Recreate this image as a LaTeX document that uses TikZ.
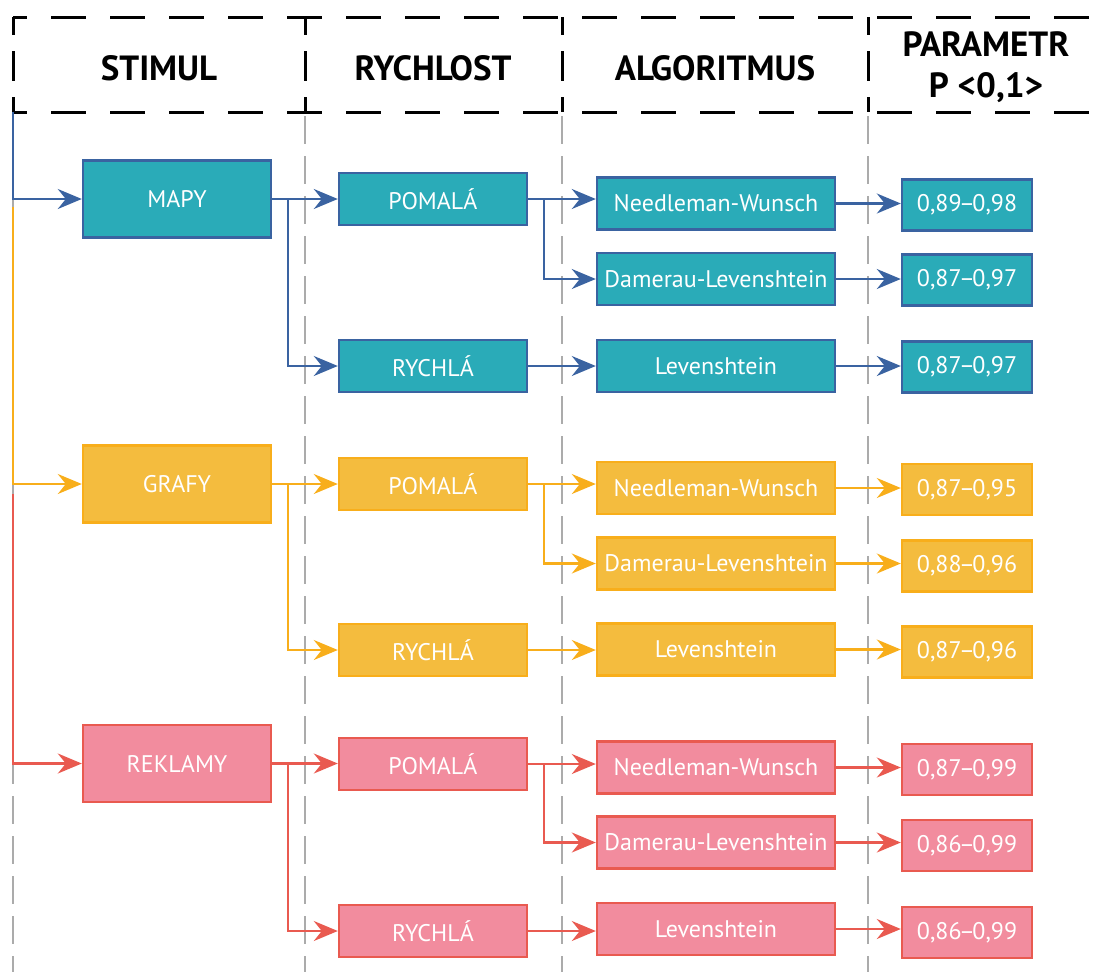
\documentclass[tikz,border=0pt]{standalone}
\usepackage{fontspec}
\setmainfont{PT Sans}
\usetikzlibrary{arrows.meta,calc}

\definecolor{tealfill}{HTML}{2AABB8}
\definecolor{blueline}{HTML}{3A63A1}
\definecolor{yelfill}{HTML}{F4BC3E}
\definecolor{yelline}{HTML}{F8AE1B}
\definecolor{pinkfill}{HTML}{F28C9E}
\definecolor{redline}{HTML}{E95A50}
\definecolor{guide}{HTML}{ABABAB}

% tight range dash
\newcommand{\rng}[2]{#1\kern-2.5pt–\kern-2.5pt#2}

\tikzset{
  box/.style={draw, line width=2.4pt, inner sep=0pt, text=white,
    font=\fontsize{24}{28}\selectfont, anchor=center},
  stim/.style={box, minimum width=188pt, minimum height=77pt},
  speed/.style={box, minimum width=188pt, minimum height=52pt},
  algo/.style={box, minimum width=238pt, minimum height=52pt},
  param/.style={box, minimum width=130pt, minimum height=51pt},
  bluebox/.style={fill=tealfill, draw=blueline},
  yelbox/.style={fill=yelfill, draw=yelline},
  pinkbox/.style={fill=pinkfill, draw=redline},
  link/.style={line width=2.2pt, -{Stealth[length=24pt, width=20pt, inset=8pt]}},
  headline/.style={black, line width=3pt},
  headtext/.style={font=\bfseries\fontsize{35}{41}\selectfont, align=center},
  guideline/.style={guide, line width=1.6pt, dash pattern=on 28pt off 12pt}
}

\begin{document}
\begin{tikzpicture}[x=1pt, y=-1pt]
\useasboundingbox (0,0) rectangle (1102,972);
\clip (0,0) rectangle (1102,972);

% column guides below the header
\foreach \gx in {13,305,562,868}
  \draw[guideline] (\gx,116) -- (\gx,972);

% header frame
\draw[headline, dash pattern=on 35pt off 24pt, dash phase=21pt] (13,17) -- (1110,17);
\draw[headline, dash pattern=on 35pt off 24pt, dash phase=21pt] (13,112) -- (1110,112);
\foreach \gx in {13,305,562,868}
  \draw[headline, dash pattern=on 30pt off 16pt, dash phase=12pt] (\gx,17) -- (\gx,112);

% header captions
\node[headtext] (hstim) at (159,68) {STIMUL};
\node[headtext] (hrych) at (433,68) {RYCHLOST};
\node[headtext] (halg) at (715,68) {ALGORITMUS};
\node[headtext] (hpar) at (986,67) {PARAMETR\\P <0,1>};

% ---- maps ----
\node[stim, bluebox] (mapy) at (177,199) {MAPY};
\node[speed, bluebox] (bpom) at (433,199) {POMALÁ};
\node[speed, bluebox] (brych) at (433,366) {RYCHLÁ};
\node[algo, bluebox] (bnw) at (716,203.5) {Needleman-Wunsch};
\node[algo, bluebox] (bdl) at (716,279) {Damerau-Levenshtein};
\node[algo, bluebox] (blev) at (716,366) {Levenshtein};
\node[param, bluebox] (bp1) at (967,205) {\rng{0,89}{0,98}};
\node[param, bluebox] (bp2) at (967,280) {\rng{0,87}{0,97}};
\node[param, bluebox] (bp3) at (967,367) {\rng{0,87}{0,97}};

% ---- charts ----
\node[stim, yelbox] (ygraf) at (177,484) {GRAFY};
\node[speed, yelbox] (ypom) at (433,484) {POMALÁ};
\node[speed, yelbox] (yrych) at (433,650) {RYCHLÁ};
\node[algo, yelbox] (ynw) at (716,488) {Needleman-Wunsch};
\node[algo, yelbox] (ydl) at (716,563.5) {Damerau-Levenshtein};
\node[algo, yelbox] (ylev) at (716,649.5) {Levenshtein};
\node[param, yelbox] (yp1) at (967,489.5) {\rng{0,87}{0,95}};
\node[param, yelbox] (yp2) at (967,566) {\rng{0,88}{0,96}};
\node[param, yelbox] (yp3) at (967,652) {\rng{0,87}{0,96}};

% ---- adverts ----
\node[stim, pinkbox] (rrek) at (177,763.5) {REKLAMY};
\node[speed, pinkbox] (rpom) at (433,764) {POMALÁ};
\node[speed, pinkbox] (rrych) at (433,931) {RYCHLÁ};
\node[algo, pinkbox] (rnw) at (716,767.5) {Needleman-Wunsch};
\node[algo, pinkbox] (rdl) at (716,842.5) {Damerau-Levenshtein};
\node[algo, pinkbox] (rlev) at (716,929) {Levenshtein};
\node[param, pinkbox] (rp1) at (967,769.5) {\rng{0,87}{0,99}};
\node[param, pinkbox] (rp2) at (967,845.5) {\rng{0,86}{0,99}};
\node[param, pinkbox] (rp3) at (967,932.5) {\rng{0,86}{0,99}};

% trunk starts on the left edge
\coordinate (bstart) at (13,112);
\coordinate (ystart) at (13,207);
\coordinate (rstart) at (13,494);

% connectors, one colour per group
\foreach \s/\st/\pm/\ry/\nw/\dl/\lv/\pa/\pb/\pc/\col in {
    bstart/mapy/bpom/brych/bnw/bdl/blev/bp1/bp2/bp3/blueline,
    ystart/ygraf/ypom/yrych/ynw/ydl/ylev/yp1/yp2/yp3/yelline,
    rstart/rrek/rpom/rrych/rnw/rdl/rlev/rp1/rp2/rp3/redline}{
  \draw[link, \col] (\s) |- (\st.west);
  \draw[link, \col] (\st.east) -- (\st.east -| \pm.west);
  \draw[link, \col] ($(\st.east)+(16,0)$) |- (\ry.west);
  \draw[link, \col] (\pm.east) -- (\pm.east -| \nw.west);
  \draw[link, \col] ($(\pm.east)+(16,0)$) |- (\dl.west);
  \draw[link, \col] (\ry.east) -- (\ry.east -| \lv.west);
  \draw[link, \col] (\nw.east) -- (\nw.east -| \pa.west);
  \draw[link, \col] (\dl.east) -- (\dl.east -| \pb.west);
  \draw[link, \col] (\lv.east) -- (\lv.east -| \pc.west);
}
\end{tikzpicture}
\end{document}
